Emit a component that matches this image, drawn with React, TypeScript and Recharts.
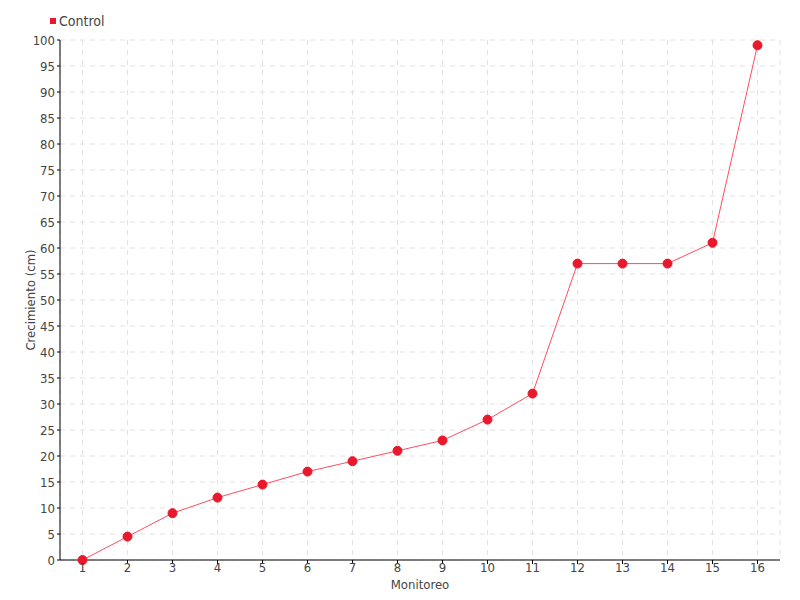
import { CartesianGrid, Line, LineChart, XAxis, YAxis } from "recharts";

const monitoreo = ["1", "2", "3", "4", "5", "6", "7", "8", "9", "10", "11", "12", "13", "14", "15", "16"];
const control = [0, 4.5, 9, 12, 14.5, 17, 19, 21, 23, 27, 32, 57, 57, 57, 61, 99];
const yTicks = [0, 5, 10, 15, 20, 25, 30, 35, 40, 45, 50, 55, 60, 65, 70, 75, 80, 85, 90, 95, 100];

const data = monitoreo.map((m, i) => ({ monitoreo: m, control: control[i] }));

const FONT = "'DejaVu Sans Condensed', 'DejaVu Sans', sans-serif";
const textStyle = { fontSize: 13, fill: "#444", fontFamily: FONT, fontStretch: "condensed" };

export default function App() {
  return (
    <div style={{ position: "absolute", left: 0, top: 0, width: 800, height: 600, background: "#fff" }}>
      <div
        style={{
          position: "absolute",
          left: 50,
          top: 13,
          display: "flex",
          alignItems: "center",
          fontFamily: FONT,
          fontStretch: "condensed",
          fontSize: 14,
          color: "#444",
        }}
      >
        <span style={{ width: 6, height: 6, background: "#e8192c", marginRight: 3 }} />
        Control
      </div>
      <LineChart
        width={800}
        height={600}
        data={data}
        margin={{ top: 40, right: 20, bottom: 0, left: 0 }}
      >
        <CartesianGrid stroke="#e2e2e2" strokeDasharray="5 5" />
        <XAxis
          dataKey="monitoreo"
          height={40}
          stroke="#000"
          tick={textStyle}
          tickSize={4}
          tickMargin={-1}
          interval={0}
          padding={{ left: 22.5, right: 22.5 }}
          label={{ value: "Monitoreo", position: "center", dy: 4, style: textStyle }}
        />
        <YAxis
          width={60}
          domain={[0, 100]}
          ticks={yTicks}
          interval={0}
          stroke="#000"
          tick={textStyle}
          tickSize={3}
          tickMargin={2}
          label={{
            value: "Crecimiento (cm)",
            angle: -90,
            position: "center",
            style: { ...textStyle, textAnchor: "middle" },
          }}
        />
        <Line
          type="linear"
          dataKey="control"
          name="Control"
          stroke="#ff4d5e"
          strokeWidth={1}
          dot={{ r: 4.5, fill: "#e8192c", stroke: "#e8192c", strokeWidth: 1 }}
          activeDot={false}
          isAnimationActive={false}
        />
      </LineChart>
    </div>
  );
}
